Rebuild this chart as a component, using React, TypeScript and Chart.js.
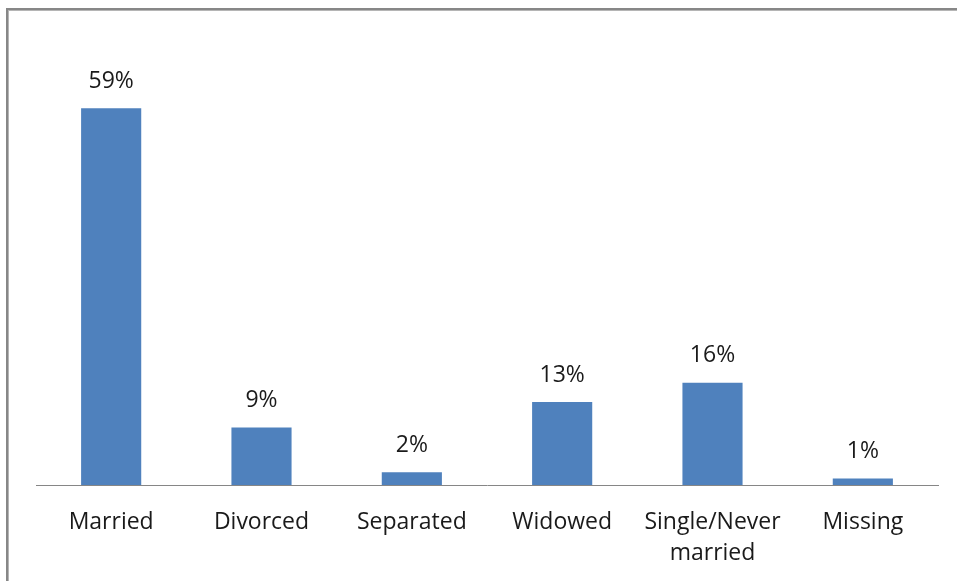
import React, { useEffect, useRef } from "react";
import { Chart, registerables } from "chart.js";

Chart.register(...registerables);

const categories: (string | string[])[] = [
  "Married",
  "Divorced",
  "Separated",
  "Widowed",
  ["Single/Never", "married"],
  "Missing",
];
const values: number[] = [59, 9, 2, 13, 16, 1];
const valueLabels: string[] = ["59%", "9%", "2%", "13%", "16%", "1%"];

const FONT = "'Open Sans', Lato, sans-serif";

const framePlugin = {
  id: "frame",
  beforeDraw(chart: any) {
    const ctx = chart.ctx;
    ctx.save();
    ctx.fillStyle = "#ffffff";
    ctx.fillRect(0, 0, chart.width, chart.height);
    ctx.strokeStyle = "#878787";
    ctx.lineWidth = 2;
    ctx.strokeRect(7, 9, 2000, 2000);
    ctx.strokeStyle = "#b5b5b5";
    ctx.lineWidth = 1;
    ctx.strokeRect(8.5, 10.5, 2000, 2000);
    ctx.restore();
  },
};

const valueLabelPlugin = {
  id: "valueLabels",
  afterDatasetsDraw(chart: any) {
    const ctx = chart.ctx;
    const meta = chart.getDatasetMeta(0);
    ctx.save();
    ctx.font = `23px ${FONT}`;
    ctx.fillStyle = "#1a1a1a";
    ctx.textAlign = "center";
    ctx.textBaseline = "middle";
    meta.data.forEach((bar: any, i: number) => {
      ctx.fillText(valueLabels[i], bar.x, bar.y - 27);
    });
    ctx.restore();
  },
};

export default function App() {
  const ref = useRef<HTMLCanvasElement>(null);
  useEffect(() => {
    if (!ref.current) return;
    const chart = new Chart(ref.current, {
      type: "bar",
      data: {
        labels: categories,
        datasets: [
          {
            data: values,
            backgroundColor: "#4F81BD",
            borderWidth: 0,
            categoryPercentage: 1,
            barPercentage: 0.4,
          },
        ],
      },
      options: {
        animation: false,
        responsive: false,
        layout: { padding: { left: 36, right: 19, top: 38, bottom: 0 } },
        plugins: { legend: { display: false }, tooltip: { enabled: false } },
        scales: {
          x: {
            grid: { display: false },
            border: { display: true, color: "#868686", width: 1 },
            ticks: {
              color: "#1a1a1a",
              font: { family: FONT, size: 23, lineHeight: 1.35 },
              padding: 14,
              maxRotation: 0,
              autoSkip: false,
            },
            afterFit(scale: any) {
              scale.height = 96;
            },
          },
          y: {
            display: false,
            min: 0,
            max: 70,
          },
        },
      },
      plugins: [framePlugin, valueLabelPlugin],
    });
    return () => chart.destroy();
  }, []);
  return (
    <div style={{ position: "fixed", left: 0, top: 0, width: 957, height: 581 }}>
      <canvas ref={ref} width={957} height={581} />
    </div>
  );
}
